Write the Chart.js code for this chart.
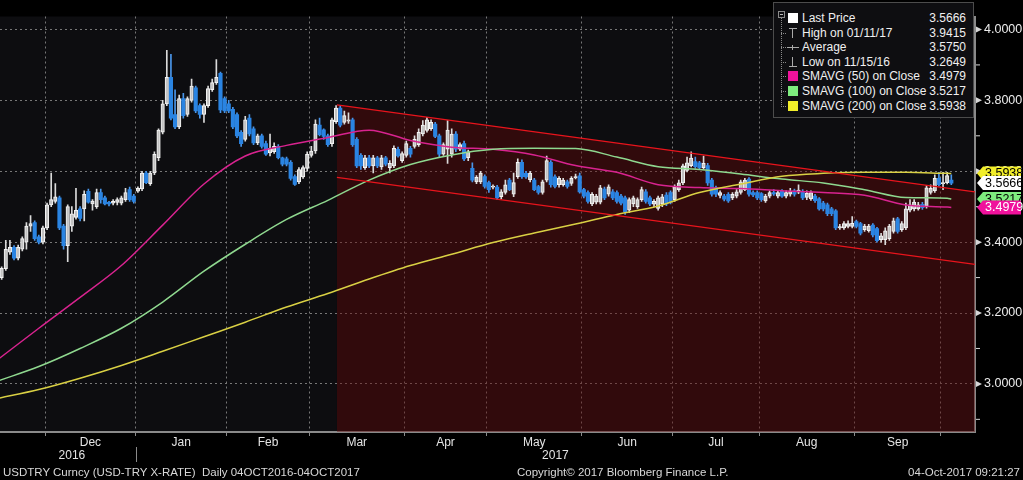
<!DOCTYPE html>
<html><head><meta charset="utf-8">
<script src="https://cdn.jsdelivr.net/npm/chart.js@4.4.1/dist/chart.umd.min.js"></script>
<style>
html,body{margin:0;padding:0;background:#000;}
#wrap{position:relative;width:1023px;height:480px;overflow:hidden;font-family:"Liberation Sans",Arial,sans-serif;}
canvas{position:absolute;left:0;top:0;}
#legend{position:absolute;left:773px;top:2px;width:201px;height:116px;background:#0e0e11;border:1px solid #4c4c4c;box-sizing:border-box;color:#f0f0f0;font-size:12px;}
.row{position:absolute;left:0;width:100%;height:14px;line-height:14px;}
.lab{position:absolute;left:28px;top:0;white-space:nowrap;}
.val{position:absolute;right:7px;top:0;}
.ico{position:absolute;left:14px;top:2px;width:10px;height:10px;}
.dash{position:absolute;left:7px;top:7px;width:5px;height:0;border-top:1px dotted #8a8a8a;}
#tree{position:absolute;left:7px;top:15px;width:0;height:89px;border-left:1px dotted #8a8a8a;}
#box{position:absolute;left:4px;top:8px;width:7px;height:7px;border:1px solid #8a8a8a;box-sizing:border-box;}
#box:after{content:"";position:absolute;left:1px;top:2px;width:3px;height:1px;background:#bbb;}
.foot{position:absolute;top:465px;color:#d8d8d8;font-size:11.5px;line-height:14px;white-space:nowrap;}
</style></head>
<body>
<div id="wrap">
<canvas id="c" width="1023" height="480"></canvas>
<div id="legend"><div id="box"></div><div id="tree"></div></div>
<div class="foot" style="left:3px;">USDTRY Curncy (USD-TRY X-RATE)&nbsp;&nbsp;Daily 04OCT2016-04OCT2017</div>
<div class="foot" style="left:517px;">Copyright© 2017 Bloomberg Finance L.P.</div>
<div class="foot" style="right:3px;">04-Oct-2017 09:21:27</div>
</div>
<script>
// ---------- DATA (trading-day index 0 = 15 Nov 2016) ----------
const open = [3.272,3.300,3.325,3.372,3.385,3.355,3.380,3.400,3.445,3.455,
3.415,3.400,3.440,3.505,3.515,3.525,3.445,3.390,3.445,3.470,
3.494,3.494,3.543,3.508,3.500,3.540,3.525,3.512,3.510,3.512,
3.510,3.520,3.548,3.530,3.544,3.550,3.595,3.565,3.595,3.638,
3.710,3.790,3.865,3.760,3.725,3.805,3.760,3.800,3.835,3.785,
3.760,3.785,3.830,3.850,3.876,3.805,3.790,3.775,3.760,3.710,
3.690,3.750,3.720,3.680,3.700,3.678,3.652,3.655,3.670,3.638,
3.635,3.625,3.585,3.570,3.584,3.608,3.645,3.657,3.730,3.717,
3.700,3.678,3.740,3.778,3.738,3.741,3.745,3.690,3.645,3.610,
3.638,3.615,3.638,3.612,3.638,3.610,3.615,3.662,3.630,3.645,
3.665,3.670,3.675,3.705,3.715,3.720,3.733,3.700,3.648,3.662,
3.648,3.705,3.662,3.678,3.638,3.608,3.570,3.570,3.585,3.568,
3.555,3.555,3.528,3.540,3.575,3.535,3.585,3.625,3.594,3.576,
3.575,3.557,3.540,3.575,3.625,3.584,3.562,3.562,3.570,3.566,
3.582,3.587,3.548,3.540,3.508,3.513,3.513,3.550,3.535,3.542,
3.540,3.530,3.525,3.490,3.508,3.500,3.520,3.542,3.525,3.507,
3.495,3.508,3.533,3.540,3.520,3.548,3.567,3.602,3.616,3.627,
3.624,3.610,3.616,3.575,3.553,3.532,3.530,3.535,3.525,3.530,
3.540,3.548,3.578,3.540,3.540,3.537,3.516,3.530,3.540,3.530,
3.543,3.530,3.535,3.545,3.541,3.543,3.526,3.522,3.530,3.522,
3.510,3.505,3.494,3.488,3.440,3.440,3.444,3.444,3.458,3.452,
3.435,3.432,3.448,3.438,3.407,3.407,3.410,3.430,3.466,3.435,
3.440,3.490,3.494,3.494,3.507,3.502,3.540,3.545,3.580,3.565,
3.568,3.575];
const high = [3.305,3.330,3.405,3.405,3.390,3.392,3.415,3.455,3.475,3.460,
3.420,3.445,3.510,3.595,3.565,3.530,3.450,3.505,3.500,3.552,
3.500,3.545,3.550,3.520,3.550,3.550,3.530,3.515,3.520,3.525,
3.530,3.552,3.555,3.535,3.556,3.600,3.600,3.600,3.655,3.720,
3.800,3.9415,3.930,3.830,3.815,3.820,3.810,3.860,3.840,3.790,
3.790,3.840,3.860,3.915,3.880,3.810,3.800,3.780,3.765,3.715,
3.755,3.760,3.725,3.705,3.705,3.685,3.705,3.680,3.675,3.640,
3.640,3.630,3.590,3.610,3.615,3.655,3.670,3.745,3.750,3.720,
3.705,3.750,3.785,3.785,3.770,3.765,3.750,3.695,3.650,3.645,
3.645,3.645,3.642,3.645,3.642,3.630,3.672,3.668,3.655,3.685,
3.670,3.700,3.720,3.743,3.752,3.745,3.738,3.705,3.680,3.743,
3.720,3.712,3.680,3.685,3.660,3.624,3.588,3.600,3.590,3.572,
3.562,3.560,3.548,3.575,3.580,3.595,3.635,3.632,3.600,3.600,
3.580,3.560,3.575,3.643,3.630,3.590,3.585,3.580,3.575,3.585,
3.592,3.595,3.552,3.545,3.540,3.535,3.560,3.555,3.562,3.548,
3.545,3.535,3.530,3.525,3.530,3.525,3.555,3.548,3.530,3.520,
3.530,3.535,3.540,3.545,3.562,3.575,3.620,3.640,3.655,3.640,
3.628,3.643,3.622,3.580,3.558,3.545,3.535,3.540,3.540,3.548,
3.575,3.580,3.582,3.545,3.545,3.540,3.535,3.545,3.548,3.545,
3.548,3.545,3.552,3.550,3.562,3.548,3.545,3.545,3.535,3.526,
3.515,3.510,3.498,3.492,3.450,3.458,3.460,3.472,3.462,3.456,
3.450,3.450,3.452,3.442,3.425,3.440,3.450,3.468,3.470,3.458,
3.510,3.520,3.520,3.512,3.512,3.560,3.562,3.590,3.597,3.597,
3.597,3.590];
const low = [3.2649,3.295,3.320,3.365,3.350,3.350,3.375,3.380,3.430,3.405,
3.395,3.395,3.435,3.500,3.510,3.435,3.380,3.345,3.430,3.465,
3.460,3.460,3.510,3.490,3.495,3.510,3.505,3.502,3.505,3.505,
3.505,3.515,3.515,3.510,3.540,3.545,3.565,3.560,3.590,3.630,
3.705,3.785,3.745,3.720,3.720,3.750,3.755,3.795,3.765,3.750,
3.738,3.780,3.825,3.845,3.765,3.765,3.765,3.720,3.695,3.670,
3.685,3.700,3.675,3.675,3.665,3.645,3.643,3.650,3.635,3.615,
3.615,3.575,3.560,3.565,3.580,3.600,3.640,3.650,3.700,3.690,
3.670,3.670,3.735,3.725,3.733,3.735,3.670,3.610,3.605,3.605,
3.610,3.595,3.610,3.605,3.615,3.595,3.610,3.640,3.625,3.640,
3.640,3.665,3.670,3.700,3.710,3.715,3.695,3.640,3.645,3.622,
3.640,3.655,3.658,3.630,3.630,3.570,3.565,3.565,3.552,3.540,
3.550,3.520,3.522,3.535,3.545,3.528,3.580,3.580,3.580,3.570,
3.545,3.535,3.535,3.570,3.555,3.553,3.555,3.558,3.552,3.560,
3.578,3.538,3.525,3.510,3.503,3.508,3.508,3.520,3.530,3.520,
3.510,3.505,3.478,3.483,3.500,3.495,3.515,3.510,3.503,3.500,
3.490,3.500,3.503,3.508,3.515,3.543,3.562,3.598,3.612,3.608,
3.605,3.606,3.560,3.530,3.528,3.525,3.516,3.512,3.520,3.525,
3.535,3.545,3.530,3.528,3.520,3.515,3.512,3.525,3.532,3.525,
3.526,3.525,3.530,3.530,3.537,3.520,3.520,3.518,3.512,3.490,
3.488,3.475,3.475,3.435,3.436,3.436,3.440,3.440,3.440,3.420,
3.430,3.428,3.415,3.400,3.400,3.393,3.405,3.425,3.425,3.430,
3.435,3.485,3.488,3.490,3.492,3.496,3.535,3.540,3.558,3.548,
3.564,3.562];
const close = [3.298,3.326,3.380,3.385,3.355,3.385,3.410,3.445,3.452,3.410,
3.400,3.440,3.505,3.520,3.528,3.440,3.390,3.500,3.480,3.490,
3.467,3.535,3.513,3.516,3.540,3.520,3.508,3.508,3.515,3.520,
3.525,3.540,3.520,3.515,3.552,3.595,3.568,3.595,3.648,3.716,
3.790,3.865,3.750,3.725,3.805,3.757,3.805,3.840,3.770,3.760,
3.785,3.833,3.850,3.865,3.773,3.770,3.770,3.725,3.700,3.678,
3.745,3.705,3.680,3.700,3.670,3.648,3.665,3.670,3.638,3.620,
3.620,3.580,3.563,3.605,3.610,3.648,3.657,3.733,3.703,3.698,
3.675,3.745,3.778,3.730,3.757,3.745,3.675,3.615,3.615,3.638,
3.615,3.638,3.615,3.638,3.620,3.622,3.665,3.643,3.650,3.678,
3.648,3.690,3.710,3.730,3.745,3.738,3.698,3.648,3.675,3.716,
3.705,3.662,3.675,3.635,3.655,3.575,3.583,3.595,3.557,3.548,
3.557,3.525,3.542,3.562,3.548,3.568,3.625,3.585,3.584,3.595,
3.548,3.540,3.570,3.630,3.562,3.557,3.580,3.575,3.557,3.580,
3.585,3.542,3.530,3.515,3.535,3.530,3.553,3.525,3.556,3.525,
3.515,3.510,3.485,3.520,3.525,3.520,3.548,3.515,3.508,3.515,
3.525,3.528,3.508,3.513,3.555,3.567,3.615,3.624,3.637,3.613,
3.610,3.622,3.567,3.535,3.535,3.540,3.521,3.516,3.535,3.542,
3.570,3.575,3.535,3.533,3.525,3.520,3.530,3.540,3.536,3.540,
3.530,3.540,3.543,3.535,3.547,3.525,3.538,3.540,3.517,3.494,
3.494,3.480,3.480,3.440,3.444,3.452,3.452,3.453,3.444,3.425,
3.445,3.445,3.420,3.404,3.418,3.432,3.445,3.460,3.430,3.452,
3.494,3.505,3.513,3.505,3.497,3.553,3.552,3.580,3.562,3.568,
3.588,3.5666];

// moving averages read at every 10th trading day (+ last day)
const smaIdx = [0,10,20,30,40,50,60,70,80,90,100,110,120,130,140,150,160,170,180,190,200,210,220,230,231];
const sma50  = [3.068,3.157,3.244,3.334,3.448,3.564,3.643,3.673,3.695,3.716,3.687,3.668,3.662,3.646,3.616,3.597,3.562,3.554,3.551,3.545,3.540,3.532,3.505,3.499,3.4979];
const sma100 = [3.008,3.049,3.100,3.157,3.231,3.318,3.394,3.464,3.518,3.575,3.619,3.646,3.662,3.665,3.664,3.640,3.613,3.605,3.592,3.578,3.567,3.548,3.526,3.524,3.5217];
const sma200 = [2.959,2.984,3.016,3.052,3.092,3.133,3.174,3.217,3.255,3.296,3.334,3.366,3.399,3.426,3.451,3.478,3.502,3.540,3.564,3.586,3.594,3.597,3.597,3.594,3.5938];

// trend channel drawn on the chart
const chanIdx   = [82.2, 236.74];
const chanUpper = [3.787, 3.542];
const chanLower = [3.583, 3.337];

// axes
const monthNames  = ['Dec','Jan','Feb','Mar','Apr','May','Jun','Jul','Aug','Sep'];
const monthBounds = [11.5,33.5,55.5,75.5,98.5,118.5,141.5,163.5,184.5,207.5,228.5];
const yearLabels  = ['2016','2017'];
const yTicks = [2.9,3.0,3.1,3.2,3.3,3.4,3.5,3.6,3.7,3.8,3.9,4.0];
const X_MIN = 0.6, X_MAX = 236.74, Y_MIN = 2.8643, Y_MAX = 4.0366;

// legend
const legendLabels = ['Last Price','High on 01/11/17','Average','Low on 11/15/16','SMAVG (50) on Close','SMAVG (100) on Close','SMAVG (200) on Close'];
const legendValues = [3.5666, 3.9415, 3.5750, 3.2649, 3.4979, 3.5217, 3.5938];

// ---------- STYLE ----------
const C_MAG='#d8238f', C_GRN='#8fd88f', C_YEL='#d9d044';
const SQ_MAG='#f0129c', SQ_GRN='#7eec7e', SQ_YEL='#f2ee2a';
const UP_FILL='rgba(175,175,175,0.6)', UP_LINE='#f4f4f4', DN='#2a84e2', DN_WICK='#4a96ea', UP_WICK='#dadada';
const FONT='"Liberation Sans", Arial, sans-serif';
const isUp = i => close[i] >= open[i];
const isMajor = v => Math.abs(v*5 - Math.round(v*5)) < 1e-6;

// legend HTML
(function(){
  const lg=document.getElementById('legend');
  const icons=[
    '<div class="ico" style="background:#fff"></div>',
    '<div class="ico"><div style="position:absolute;left:1px;top:0;width:8px;height:1px;background:#aaa"></div><div style="position:absolute;left:4px;top:0;width:1px;height:10px;background:#aaa"></div></div>',
    '<div class="ico"><div style="position:absolute;left:-1px;top:5px;width:12px;height:1px;background:#aaa"></div><div style="position:absolute;left:4px;top:3px;width:1px;height:5px;background:#aaa"></div></div>',
    '<div class="ico"><div style="position:absolute;left:1px;top:9px;width:8px;height:1px;background:#aaa"></div><div style="position:absolute;left:4px;top:0;width:1px;height:10px;background:#aaa"></div></div>',
    '<div class="ico" style="background:'+SQ_MAG+'"></div>',
    '<div class="ico" style="background:'+SQ_GRN+'"></div>',
    '<div class="ico" style="background:'+SQ_YEL+'"></div>'
  ];
  legendLabels.forEach((t,k)=>{
    const r=document.createElement('div'); r.className='row'; r.style.top=(8+k*14.6)+'px';
    r.innerHTML=(k>0?'<div class="dash"></div>':'')+icons[k]+'<span class="lab">'+t+'</span><span class="val">'+legendValues[k].toFixed(4)+'</span>';
    lg.appendChild(r);
  });
})();

const wicks  = open.map((o,i)=>({x:i, y:[low[i], high[i]]}));
const bodies = open.map((o,i)=>({x:i, y:[o, close[i]]}));
const pts = arr => smaIdx.map((x,k)=>({x, y:arr[k]}));

const decor = {
  id:'decor',
  beforeDraw(chart){
    const {ctx, chartArea:a} = chart;
    ctx.save();
    ctx.fillStyle='#000'; ctx.fillRect(0,0,chart.width,chart.height);
    ctx.fillStyle='#0d0d10'; ctx.fillRect(a.left,a.top,a.right-a.left,a.bottom-a.top);
    ctx.restore();
  },
  afterDraw(chart){
    const {ctx, scales:{x,y}, chartArea:a} = chart;
    ctx.save();
    yTicks.forEach(v=>{
      const py = y.getPixelForValue(v);
      ctx.fillStyle='#d6d6d6';
      if(isMajor(v)){
        ctx.beginPath(); ctx.moveTo(a.right+1,py-3); ctx.lineTo(a.right+7,py); ctx.lineTo(a.right+1,py+3); ctx.closePath(); ctx.fill();
      } else {
        ctx.fillRect(a.right+1, py-0.5, 4, 1);
      }
    });
    ctx.fillStyle='#e4e4e4'; ctx.font='12px '+FONT; ctx.textAlign='center'; ctx.textBaseline='middle';
    monthNames.forEach((m,k)=>{
      const px = x.getPixelForValue((monthBounds[k]+monthBounds[k+1])/2);
      ctx.fillText(m, px, 442.5);
    });
    const yb = x.getPixelForValue(monthBounds[1]);
    ctx.fillText(yearLabels[0], (x.getPixelForValue(X_MIN)+yb)/2 + 4, 455.5);
    ctx.fillText(yearLabels[1], (yb + x.getPixelForValue(X_MAX))/2, 455.5);
    ctx.strokeStyle='#8a8a8a'; ctx.lineWidth=1;
    ctx.beginPath(); ctx.moveTo(Math.round(yb)+0.5,447); ctx.lineTo(Math.round(yb)+0.5,462); ctx.stroke();
    const tags = [
      [sma200[sma200.length-1], SQ_YEL, '#000'],
      [close[close.length-1], '#ffffff', '#000'],
      [sma100[sma100.length-1], SQ_GRN, '#000'],
      [sma50[sma50.length-1], SQ_MAG, '#fff']
    ];
    ctx.font='12.5px '+FONT; ctx.textAlign='left';
    tags.forEach(([v,bg,fg])=>{
      const py = y.getPixelForValue(v), x0=a.right+2, x1=1021, h=14;
      ctx.fillStyle=bg;
      ctx.beginPath(); ctx.moveTo(x0,py); ctx.lineTo(x0+6,py-h/2); ctx.lineTo(x1,py-h/2); ctx.lineTo(x1,py+h/2); ctx.lineTo(x0+6,py+h/2); ctx.closePath(); ctx.fill();
      ctx.fillStyle=fg; ctx.fillText(v.toFixed(4), x0+8, py+0.5);
    });
    ctx.restore();
  }
};

new Chart(document.getElementById('c'), {
  type:'line',
  data:{datasets:[
    {type:'line', label:'channel', data: chanIdx.map((x,k)=>({x, y:chanUpper[k]})), borderWidth:0, pointRadius:0, fill:'start', backgroundColor:'rgba(100,6,6,0.42)', tension:0, order:10},
    {type:'bar', label:'range', data: wicks, barThickness:1, grouped:false,
      backgroundColor: c => (c.dataIndex!==undefined && isUp(c.dataIndex)) ? UP_WICK : DN_WICK, order:5},
    {type:'bar', label:'USDTRY', data: bodies, barThickness:3.5, grouped:false, minBarLength:1, borderSkipped:false,
      backgroundColor: c => (c.dataIndex!==undefined && isUp(c.dataIndex)) ? UP_FILL : DN,
      borderColor: c => (c.dataIndex!==undefined && isUp(c.dataIndex)) ? UP_LINE : DN,
      borderWidth: c => (c.dataIndex!==undefined && isUp(c.dataIndex)) ? 1 : 0, order:4},
    {type:'line', label:'SMAVG (200)', data: pts(sma200), borderColor:C_YEL, borderWidth:1.5, pointRadius:0, cubicInterpolationMode:'monotone', fill:false, order:3},
    {type:'line', label:'SMAVG (100)', data: pts(sma100), borderColor:C_GRN, borderWidth:1.5, pointRadius:0, cubicInterpolationMode:'monotone', fill:false, order:3},
    {type:'line', label:'SMAVG (50)', data: pts(sma50), borderColor:C_MAG, borderWidth:1.5, pointRadius:0, cubicInterpolationMode:'monotone', fill:false, order:3},
    {type:'line', label:'upper', data: chanIdx.map((x,k)=>({x, y:chanUpper[k]})), borderColor:'#e8141c', borderWidth:1.3, pointRadius:0, fill:false, tension:0, order:1},
    {type:'line', label:'lower', data: chanIdx.map((x,k)=>({x, y:chanLower[k]})), borderColor:'#e8141c', borderWidth:1.3, pointRadius:0, fill:false, tension:0, order:1}
  ]},
  options:{
    responsive:false, animation:false, devicePixelRatio:1,
    layout:{padding:0},
    plugins:{legend:{display:false}, tooltip:{enabled:false}, title:{display:false}},
    scales:{
      x:{type:'linear', min:X_MIN, max:X_MAX, offset:false,
        afterBuildTicks: s => { s.ticks = monthBounds.map(v=>({value:v})); },
        afterFit: s => { s.height = 48; },
        ticks:{display:false},
        grid:{color:'#777777', offset:false, drawTicks:true, tickLength:4, tickColor:'#8a8a8a', tickWidth:1},
        border:{display:true, color:'#8a8a8a', width:2, dash:[2,3]}},
      y:{type:'linear', position:'right', min:Y_MIN, max:Y_MAX,
        afterBuildTicks: s => { s.ticks = yTicks.map(v=>({value:v})); },
        afterFit: s => { s.width = 48; },
        ticks:{autoSkip:false, color:'#ececec', font:{family:FONT, size:12.5}, padding:9,
          callback: v => isMajor(v) ? Number(v).toFixed(4) : ''},
        grid:{drawTicks:false, color: c => (c.tick && isMajor(c.tick.value)) ? '#777777' : 'rgba(0,0,0,0)'},
        border:{display:true, color:'#8a8a8a', width:2, dash:[2,3]}}
    }
  },
  plugins:[decor]
});
</script>
</body></html>
